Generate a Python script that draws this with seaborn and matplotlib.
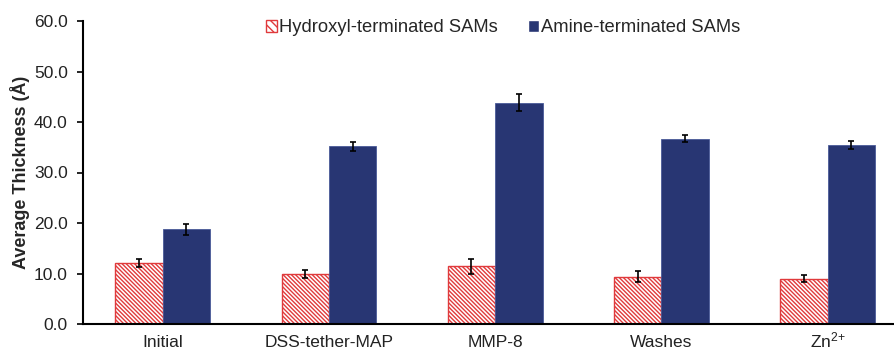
import matplotlib
matplotlib.use("Agg")
import matplotlib.pyplot as plt
import seaborn as sns
import pandas as pd
import numpy as np

categories = ["Initial", "DSS-tether-MAP", "MMP-8", "Washes", "Zn$^{2{+}}$"]
series = ["Hydroxyl-terminated SAMs", "Amine-terminated SAMs"]
hydroxyl = [12.0, 9.9, 11.4, 9.4, 9.0]
hydroxyl_err = [0.8, 0.7, 1.4, 1.1, 0.7]
amine = [18.8, 35.2, 43.8, 36.7, 35.4]
amine_err = [1.1, 0.9, 1.7, 0.7, 0.8]
yticks = [0, 10, 20, 30, 40, 50, 60]

sns.set_style("white")
plt.rcParams["font.family"] = ["Liberation Sans", "DejaVu Sans"]
plt.rcParams["mathtext.default"] = "regular"
plt.rcParams["hatch.linewidth"] = 1.0
red = "#e03a3c"
blue = "#283673"
plt.rcParams["hatch.color"] = red

df = pd.DataFrame({
    "cat": categories * 2,
    "series": [series[0]] * 5 + [series[1]] * 5,
    "val": hydroxyl + amine,
})

fig = plt.figure(figsize=(8.94, 3.51), dpi=100)
ax = fig.add_axes([83 / 894, 27 / 351, 1 - 83 / 894, 303 / 351])

sns.barplot(data=df, x="cat", y="val", hue="series", order=categories,
            hue_order=series, palette=["white", blue], saturation=1, width=0.57,
            errorbar=None, ax=ax, legend=True)

hatch = "\\" * 8
for c, err, s in zip(ax.containers, [hydroxyl_err, amine_err], [0, 1]):
    xs = []
    hs = []
    for p in c.patches:
        if s == 0:
            p.set_facecolor("white")
            p.set_edgecolor(red)
            p.set_hatch(hatch)
            p.set_linewidth(1.0)
        else:
            p.set_edgecolor("#4a5a98")
            p.set_linewidth(0.6)
        xs.append(p.get_x() + p.get_width() / 2)
        hs.append(p.get_height())
    ax.errorbar(xs, hs, yerr=err, fmt="none", ecolor="black", elinewidth=1.2,
                capsize=2.5, capthick=1.2, zorder=5)

fs = 12.5
ax.set_xlim(-0.48, 4.40)
ax.set_ylim(0, 60)
ax.set_yticks(yticks)
ax.set_yticklabels([f"{t:.1f}" for t in yticks], fontsize=fs, color="#222222")
ax.tick_params(axis="y", direction="out", length=4, width=1.2, color="black", left=True, pad=7)
ax.tick_params(axis="x", length=0, labelsize=fs, pad=16.5, labelcolor="#222222")
for lbl in ax.get_xticklabels():
    lbl.set_verticalalignment("baseline")
ax.set_xlabel("")
ax.set_ylabel("Average Thickness (Å)", fontsize=13, fontweight="bold", labelpad=3)
for sp in ["top", "right"]:
    ax.spines[sp].set_visible(False)
for sp in ["left", "bottom"]:
    ax.spines[sp].set_color("black")
    ax.spines[sp].set_linewidth(1.5)

handles, labels = ax.get_legend_handles_labels()
handles[0].set_facecolor("white")
handles[0].set_edgecolor(red)
handles[0].set_hatch("\\\\\\\\")
leg = ax.legend(handles, labels, loc="upper center", bbox_to_anchor=(0.518, 1.06),
                ncol=2, frameon=False, fontsize=13.2, handlelength=0.6,
                handleheight=0.6, handletextpad=0.15, columnspacing=1.6)

fig.savefig("out.png", dpi=100)
